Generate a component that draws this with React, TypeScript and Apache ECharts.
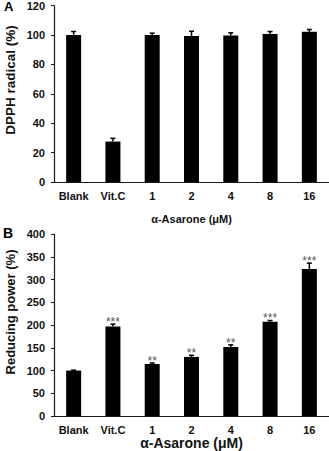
import React, { useEffect, useRef } from "react";
import * as echarts from "echarts";

const categories = ["Blank", "Vit.C", "1", "2", "4", "8", "16"];

// Panel A: DPPH radical (%)
const dpphValues = [100, 27.5, 100, 99.3, 99.6, 100.7, 102.1];
const dpphErrors = [2.3, 2.2, 1.2, 3.2, 1.8, 1.6, 1.6];
const dpphTicks = { min: 0, max: 120, interval: 20 };

// Panel B: Reducing power (%)
const reducingValues = [100, 197, 114.5, 130, 152, 207, 323];
const reducingErrors = [1, 5, 2, 3.5, 4.5, 3, 13];
const reducingStars = ["", "***", "**", "**", "**", "***", "***"];
const reducingTicks = { min: 0, max: 400, interval: 50 };

const FONT = "'Liberation Sans', Arial, sans-serif";
const AXIS_COLOR = "#1a1a1a";

function errorBarSeries(
  axisIndex: number,
  values: number[],
  errors: number[],
  stars: string[] | null
) {
  return {
    type: "custom",
    xAxisIndex: axisIndex,
    yAxisIndex: axisIndex,
    z: 5,
    data: values.map((v, i) => [i, v, errors[i]]),
    renderItem: (params: any, api: any) => {
      const i = api.value(0);
      const v = api.value(1);
      const e = api.value(2);
      const base = api.coord([i, v]);
      const top = api.coord([i, v + e]);
      const capHalf = 2.5;
      const children: any[] = [
        {
          type: "line",
          shape: { x1: base[0], y1: base[1], x2: top[0], y2: top[1] },
          style: { stroke: "#000", lineWidth: 1.5 },
        },
        {
          type: "line",
          shape: { x1: top[0] - capHalf, y1: top[1], x2: top[0] + capHalf, y2: top[1] },
          style: { stroke: "#000", lineWidth: 1.5 },
        },
      ];
      const s = stars ? stars[params.dataIndex] : "";
      if (s) {
        children.push({
          type: "text",
          x: top[0],
          y: top[1] - 2,
          style: {
            text: s,
            fill: "#555",
            font: `normal 12px ${FONT}`,
            align: "center",
            verticalAlign: "middle",
          },
        });
      }
      return { type: "group", children };
    },
  };
}

function xAxisFor(gridIndex: number, nameGap: number, nameSize: number, labelSize: number) {
  return {
    type: "category",
    gridIndex,
    data: categories,
    boundaryGap: true,
    name: "α-Asarone (μM)",
    nameLocation: "middle",
    nameGap,
    nameTextStyle: { fontFamily: FONT, fontWeight: "bold", fontSize: nameSize, color: "#111" },
    axisLine: { lineStyle: { color: AXIS_COLOR, width: 1.2 } },
    axisTick: { show: false },
    axisLabel: {
      fontFamily: FONT,
      fontWeight: "bold",
      fontSize: labelSize,
      color: "#111",
      margin: 8,
      interval: 0,
    },
  };
}

function yAxisFor(gridIndex: number, ticks: { min: number; max: number; interval: number }) {
  return {
    type: "value",
    gridIndex,
    min: ticks.min,
    max: ticks.max,
    interval: ticks.interval,
    splitLine: { show: false },
    axisLine: { show: true, lineStyle: { color: AXIS_COLOR, width: 1.2 } },
    axisTick: { show: true, length: 3, lineStyle: { color: AXIS_COLOR } },
    axisLabel: {
      fontFamily: FONT,
      fontWeight: "bold",
      fontSize: 11,
      color: "#111",
      margin: 9,
    },
  };
}

export default function App() {
  const ref = useRef<HTMLDivElement>(null);

  useEffect(() => {
    document.body.style.margin = "0";
    if (!ref.current) return;
    const chart = echarts.init(ref.current, undefined, { renderer: "svg" });

    chart.setOption({
      animation: false,
      backgroundColor: "#fff",
      grid: [
        { left: 54, top: 5, width: 276, height: 177 },
        { left: 54, top: 234, width: 276, height: 183 },
      ],
      xAxis: [xAxisFor(0, 31, 11, 11), xAxisFor(1, 15, 14, 11)],
      yAxis: [yAxisFor(0, dpphTicks), yAxisFor(1, reducingTicks)],
      series: [
        {
          type: "bar",
          xAxisIndex: 0,
          yAxisIndex: 0,
          data: dpphValues,
          barWidth: 15,
          itemStyle: { color: "#000" },
        },
        errorBarSeries(0, dpphValues, dpphErrors, null),
        {
          type: "bar",
          xAxisIndex: 1,
          yAxisIndex: 1,
          data: reducingValues,
          barWidth: 15,
          itemStyle: { color: "#000" },
        },
        errorBarSeries(1, reducingValues, reducingErrors, reducingStars),
      ],
      graphic: [
        {
          type: "text",
          left: 4,
          top: 0,
          style: { text: "A", font: `bold 13px ${FONT}`, fill: "#000" },
        },
        {
          type: "text",
          left: 3,
          top: 226,
          style: { text: "B", font: `bold 14px ${FONT}`, fill: "#000" },
        },
        {
          type: "text",
          x: 10.5,
          y: 80,
          rotation: Math.PI / 2,
          style: {
            text: "DPPH radical (%)",
            font: `bold 13.5px ${FONT}`,
            fill: "#111",
            align: "center",
            verticalAlign: "middle",
          },
        },
        {
          type: "text",
          x: 10,
          y: 312,
          rotation: Math.PI / 2,
          style: {
            text: "Reducing power (%)",
            font: `bold 13px ${FONT}`,
            fill: "#111",
            align: "center",
            verticalAlign: "middle",
          },
        },
      ],
    });

    return () => chart.dispose();
  }, []);

  return <div ref={ref} style={{ width: 329, height: 451 }} />;
}
